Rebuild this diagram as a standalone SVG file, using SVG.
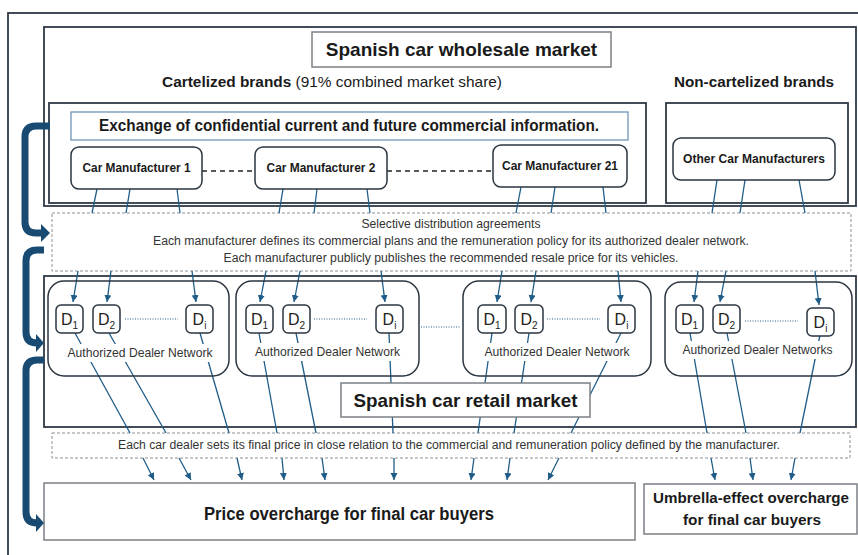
<svg xmlns="http://www.w3.org/2000/svg" width="858" height="555" viewBox="0 0 858 555">
<defs>
<marker id="ah" markerUnits="userSpaceOnUse" markerWidth="8" markerHeight="8" refX="7" refY="3.5" orient="auto">
<path d="M0,0 L7,3.5 L0,7 z" fill="#1f5c88"/>
</marker>
<style>
.frame{fill:none;stroke:#2e3a46;stroke-width:1.8}
.rbox{fill:#fff;stroke:#2a3540;stroke-width:1.5}
.dn{fill:none;stroke:#2a3540;stroke-width:1.5}
.tbox{fill:#fff;stroke:#7b8085;stroke-width:1.5}
.dash{fill:#fff;stroke:#8c9196;stroke-width:1;stroke-dasharray:3 2}
.conn line{stroke:#1f5c88;stroke-width:1.3}
.arr{marker-end:url(#ah)}
.blue{fill:none;stroke:#184a72;stroke-width:7}
.bluehead{fill:#184a72}
text{font-family:"Liberation Sans",Arial,sans-serif;fill:#1a1a1a}
.b{font-weight:bold}
.reg{fill:#333;font-size:12px}
.d{font-size:16px;fill:#222}
.sub{font-size:10px}
.lab{font-size:13px;fill:#333}
.conn line.dot{stroke:#2a5f8a;stroke-width:1.2;stroke-dasharray:1 1.5}
.conn line.dashl{stroke:#222;stroke-width:1.3;stroke-dasharray:5 4}
</style>
</defs>
<rect width="858" height="555" fill="#fff"/>

<!-- frames -->
<g id="frames">
<rect x="8" y="13" width="870" height="570" class="frame"/>
<rect x="44" y="27" width="812" height="179" class="frame"/>
<rect x="49" y="103" width="597" height="100" class="frame"/>
<rect x="666" y="103" width="182" height="100" class="frame"/>
<rect x="44" y="276" width="812" height="151" class="frame"/>
</g>

<!-- wholesale title -->
<g id="wholesale-title">
<rect x="312" y="32" width="299" height="35" class="tbox"/>
<text x="461.5" y="56" text-anchor="middle" class="b" font-size="19">Spanish car wholesale market</text>
</g>
<g id="cartelized-label">
<text x="162" y="87" font-size="15" textLength="340" lengthAdjust="spacingAndGlyphs"><tspan class="b">Cartelized brands</tspan> (91% combined market share)</text>
</g>
<g id="noncartelized-label">
<text x="674" y="87" font-size="15" class="b" textLength="160" lengthAdjust="spacingAndGlyphs">Non-cartelized brands</text>
</g>
<g id="exchange">
<rect x="71" y="112" width="557" height="28" fill="#fff" stroke="#6f95b5" stroke-width="1.3"/>
<text x="99" y="131" font-size="16" class="b" textLength="500" lengthAdjust="spacingAndGlyphs">Exchange of confidential current and future commercial information.</text>
</g>

<!-- distribution box -->
<g id="distribution">
<rect x="52" y="213" width="799" height="58" class="dash"/>
<text x="451" y="228" text-anchor="middle" class="reg" textLength="179" lengthAdjust="spacingAndGlyphs">Selective distribution agreements</text>
<text x="451" y="245" text-anchor="middle" class="reg" textLength="596" lengthAdjust="spacingAndGlyphs">Each manufacturer defines its commercial plans and the remuneration policy for its authorized dealer network.</text>
<text x="451" y="262" text-anchor="middle" class="reg" textLength="455" lengthAdjust="spacingAndGlyphs">Each manufacturer publicly publishes the recommended resale price for its vehicles.</text>
</g>

<!-- final price box -->
<g id="final-price">
<rect x="52" y="433" width="798" height="25" class="dash"/>
<text x="449" y="449" text-anchor="middle" class="reg" textLength="662" lengthAdjust="spacingAndGlyphs">Each car dealer sets its final price in close relation to the commercial and remuneration policy defined by the manufacturer.</text>
</g>

<!-- connectors -->
<g id="connectors" class="conn">
<line x1="97" y1="189" x2="92" y2="213"/>
<line x1="130" y1="189" x2="126" y2="213"/>
<line x1="177" y1="189" x2="180" y2="213"/>
<line x1="283" y1="189" x2="279" y2="213"/>
<line x1="317" y1="189" x2="314" y2="213"/>
<line x1="367" y1="189" x2="370" y2="213"/>
<line x1="521" y1="187" x2="516" y2="213"/>
<line x1="555" y1="187" x2="551" y2="213"/>
<line x1="603" y1="187" x2="606" y2="213"/>
<line x1="717" y1="180" x2="712" y2="213"/>
<line x1="745" y1="180" x2="740" y2="213"/>
<line x1="799" y1="180" x2="805" y2="213"/>

<line class="arr" x1="78" y1="271" x2="73" y2="302"/>
<line class="arr" x1="111" y1="271" x2="107" y2="302"/>
<line class="arr" x1="192" y1="271" x2="196" y2="302"/>
<line class="arr" x1="266" y1="271" x2="260" y2="302"/>
<line class="arr" x1="300" y1="271" x2="294" y2="302"/>
<line class="arr" x1="381" y1="271" x2="385" y2="302"/>
<line class="arr" x1="502" y1="271" x2="497" y2="302"/>
<line class="arr" x1="536" y1="271" x2="531" y2="302"/>
<line class="arr" x1="618" y1="271" x2="621" y2="302"/>
<line class="arr" x1="698" y1="271" x2="694" y2="302"/>
<line class="arr" x1="726" y1="271" x2="720" y2="302"/>
<line class="arr" x1="815" y1="271" x2="819" y2="305"/>

<line x1="75" y1="333" x2="130" y2="433"/>
<line x1="109" y1="333" x2="166" y2="433"/>
<line x1="200" y1="333" x2="229" y2="433"/>
<line x1="259" y1="333" x2="277" y2="433"/>
<line x1="296" y1="333" x2="316" y2="433"/>
<line x1="389" y1="333" x2="393" y2="433"/>
<line x1="492" y1="333" x2="478" y2="433"/>
<line x1="529" y1="333" x2="514" y2="433"/>
<line x1="621" y1="333" x2="571" y2="433"/>
<line x1="690" y1="333" x2="707" y2="433"/>
<line x1="727" y1="333" x2="746" y2="433"/>
<line x1="820" y1="335" x2="800" y2="433"/>

<line class="arr" x1="143" y1="458" x2="154" y2="480"/>
<line class="arr" x1="179" y1="458" x2="191" y2="480"/>
<line class="arr" x1="237" y1="458" x2="242" y2="480"/>
<line class="arr" x1="282" y1="458" x2="284" y2="480"/>
<line class="arr" x1="322" y1="458" x2="325" y2="480"/>
<line class="arr" x1="394" y1="458" x2="394" y2="480"/>
<line class="arr" x1="474" y1="458" x2="471" y2="480"/>
<line class="arr" x1="510" y1="458" x2="507" y2="480"/>
<line class="arr" x1="559" y1="458" x2="548" y2="480"/>
<line class="arr" x1="711" y1="458" x2="715" y2="480"/>
<line class="arr" x1="750" y1="458" x2="753" y2="480"/>
<line class="arr" x1="795" y1="458" x2="791" y2="480"/>

<line class="dashl" x1="202" y1="171" x2="255" y2="171"/>
<line class="dashl" x1="387" y1="171" x2="493" y2="171"/>
<line class="dot" x1="125" y1="319" x2="178" y2="319"/>
<line class="dot" x1="314" y1="319" x2="367" y2="319"/>
<line class="dot" x1="547" y1="319" x2="600" y2="319"/>
<line class="dot" x1="745" y1="321" x2="798" y2="321"/>
<line class="dot" x1="421" y1="327" x2="461" y2="327"/>
</g>

<!-- manufacturers -->
<g id="cm1">
<rect x="71" y="147" width="131" height="42" rx="8" class="rbox"/>
<text x="136.5" y="172" text-anchor="middle" class="b" font-size="12.5" textLength="108" lengthAdjust="spacingAndGlyphs">Car Manufacturer 1</text>
</g>
<g id="cm2">
<rect x="255" y="147" width="132" height="42" rx="8" class="rbox"/>
<text x="321" y="172" text-anchor="middle" class="b" font-size="12.5" textLength="109" lengthAdjust="spacingAndGlyphs">Car Manufacturer 2</text>
</g>
<g id="cm21">
<rect x="493" y="145" width="134" height="42" rx="8" class="rbox"/>
<text x="560" y="170" text-anchor="middle" class="b" font-size="12.5" textLength="116" lengthAdjust="spacingAndGlyphs">Car Manufacturer 21</text>
</g>
<g id="other-cm">
<rect x="673" y="138" width="162" height="42" rx="8" class="rbox"/>
<text x="754" y="163" text-anchor="middle" class="b" font-size="12.5" textLength="142" lengthAdjust="spacingAndGlyphs">Other Car Manufacturers</text>
</g>

<!-- dealer networks -->
<g id="dn1">
<rect x="48" y="281" width="181" height="95" rx="16" class="dn"/>
<rect x="56" y="305" width="27" height="28" rx="5" class="rbox"/>
<text x="69.5" y="325" text-anchor="middle" class="d">D<tspan class="sub" dy="4">1</tspan></text>
<rect x="93" y="305" width="27" height="28" rx="5" class="rbox"/>
<text x="106.5" y="325" text-anchor="middle" class="d">D<tspan class="sub" dy="4">2</tspan></text>
<rect x="186" y="305" width="27" height="28" rx="5" class="rbox"/>
<text x="199.5" y="325" text-anchor="middle" class="d">D<tspan class="sub" dy="4">i</tspan></text>
<rect x="66" y="344" width="148" height="18" fill="#fff"/>
<text x="140" y="357" text-anchor="middle" class="lab" textLength="145" lengthAdjust="spacingAndGlyphs">Authorized Dealer Network</text>
</g>
<g id="dn2">
<rect x="236" y="281" width="183" height="95" rx="16" class="dn"/>
<rect x="246" y="305" width="27" height="28" rx="5" class="rbox"/>
<text x="259.5" y="325" text-anchor="middle" class="d">D<tspan class="sub" dy="4">1</tspan></text>
<rect x="283" y="305" width="27" height="28" rx="5" class="rbox"/>
<text x="296.5" y="325" text-anchor="middle" class="d">D<tspan class="sub" dy="4">2</tspan></text>
<rect x="376" y="305" width="27" height="28" rx="5" class="rbox"/>
<text x="389.5" y="325" text-anchor="middle" class="d">D<tspan class="sub" dy="4">i</tspan></text>
<rect x="254" y="343" width="148" height="18" fill="#fff"/>
<text x="327.5" y="356" text-anchor="middle" class="lab" textLength="145" lengthAdjust="spacingAndGlyphs">Authorized Dealer Network</text>
</g>
<g id="dn3">
<rect x="463" y="281" width="188" height="95" rx="16" class="dn"/>
<rect x="478" y="305" width="28" height="28" rx="5" class="rbox"/>
<text x="492" y="325" text-anchor="middle" class="d">D<tspan class="sub" dy="4">1</tspan></text>
<rect x="515" y="305" width="28" height="28" rx="5" class="rbox"/>
<text x="529" y="325" text-anchor="middle" class="d">D<tspan class="sub" dy="4">2</tspan></text>
<rect x="608" y="305" width="27" height="28" rx="5" class="rbox"/>
<text x="621.5" y="325" text-anchor="middle" class="d">D<tspan class="sub" dy="4">i</tspan></text>
<rect x="483" y="343" width="148" height="18" fill="#fff"/>
<text x="557" y="356" text-anchor="middle" class="lab" textLength="145" lengthAdjust="spacingAndGlyphs">Authorized Dealer Network</text>
</g>
<g id="dn4">
<rect x="665" y="282" width="187" height="94" rx="16" class="dn"/>
<rect x="676" y="305" width="27" height="28" rx="5" class="rbox"/>
<text x="689.5" y="325" text-anchor="middle" class="d">D<tspan class="sub" dy="4">1</tspan></text>
<rect x="713" y="305" width="27" height="28" rx="5" class="rbox"/>
<text x="726.5" y="325" text-anchor="middle" class="d">D<tspan class="sub" dy="4">2</tspan></text>
<rect x="807" y="308" width="27" height="28" rx="5" class="rbox"/>
<text x="820.5" y="328" text-anchor="middle" class="d">D<tspan class="sub" dy="4">i</tspan></text>
<rect x="680" y="341" width="154" height="18" fill="#fff"/>
<text x="757.5" y="354" text-anchor="middle" class="lab" textLength="150" lengthAdjust="spacingAndGlyphs">Authorized Dealer Networks</text>
</g>

<!-- retail title -->
<g id="retail-title">
<rect x="341" y="383" width="249" height="34" class="tbox"/>
<text x="465.5" y="407" text-anchor="middle" class="b" font-size="19" textLength="224" lengthAdjust="spacingAndGlyphs">Spanish car retail market</text>
</g>

<!-- outcomes -->
<g id="price-overcharge">
<rect x="44" y="483" width="591" height="57" class="tbox"/>
<text x="349" y="520" text-anchor="middle" class="b" font-size="18" textLength="290" lengthAdjust="spacingAndGlyphs">Price overcharge for final car buyers</text>
</g>
<g id="umbrella-overcharge">
<rect x="644" y="484" width="213" height="50" class="tbox"/>
<text x="751" y="503" text-anchor="middle" class="b" font-size="15.5" textLength="196" lengthAdjust="spacingAndGlyphs">Umbrella-effect overcharge</text>
<text x="752" y="525" text-anchor="middle" class="b" font-size="15.5" textLength="138" lengthAdjust="spacingAndGlyphs">for final car buyers</text>
</g>

<!-- blue bracket arrows -->
<g id="brackets">
<path class="blue" d="M50,126 H36 Q25,126 25,137 V222 Q25,233 36,233 H42"/>
<polygon class="bluehead" points="41,224 50,233 41,242"/>
<path class="blue" d="M44,250 H37 Q26,250 26,261 V332 Q26,343 37,343 H37"/>
<polygon class="bluehead" points="36,334 44,343 36,352"/>
<path class="blue" d="M44,360 H37 Q26,360 26,371 V512 Q26,523 37,523 H37"/>
<polygon class="bluehead" points="36,514 44,523 36,532"/>
</g>
</svg>
